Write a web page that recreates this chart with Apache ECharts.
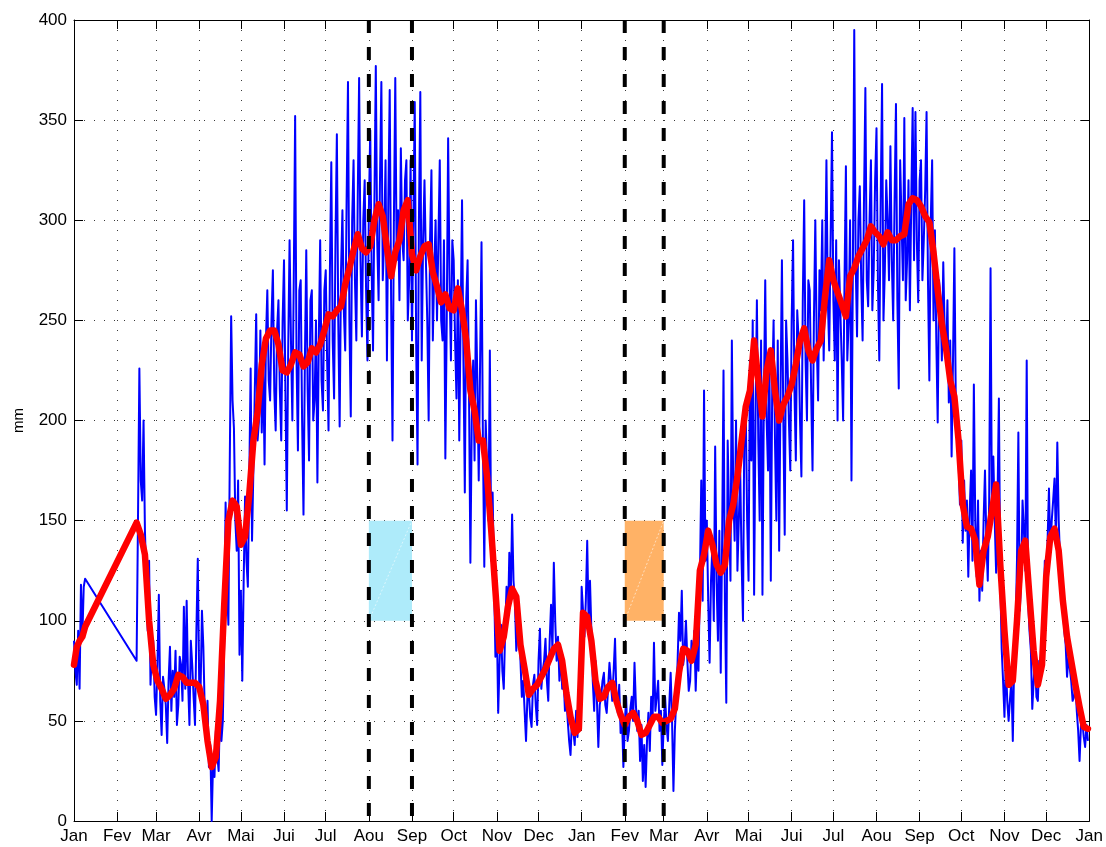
<!DOCTYPE html>
<html>
<head>
<meta charset="utf-8">
<script src="https://cdn.jsdelivr.net/npm/echarts@6/dist/echarts.min.js"></script>
<style>
  html, body { margin: 0; padding: 0; background: #ffffff; }
  #chart { width: 1106px; height: 847px; }
</style>
</head>
<body>
<div id="chart"></div>
<script>
// Calendar: day index of each month start over two years, and the month names
const monthDays = [0, 31, 59, 90, 120, 151, 181, 212, 243, 273, 304, 334, 365,
                   396, 424, 455, 485, 516, 546, 577, 608, 638, 669, 699, 730];
const monthNames = ['Jan', 'Fev', 'Mar', 'Avr', 'Mai', 'Jui', 'Jul', 'Aou', 'Sep', 'Oct', 'Nov', 'Dec', 'Jan',
                    'Fev', 'Mar', 'Avr', 'Mai', 'Jui', 'Jul', 'Aou', 'Sep', 'Oct', 'Nov', 'Dec', 'Jan'];

// Daily observations (mm): first days of January, one value per day from day 0
const obsJanStart = 0, obsJanStep = 1;
const obsJan = [90, 75, 68, 95, 66, 118, 92, 117, 121];

// Observations (mm) after the February gap: odd-numbered days from day 45
const obsEvenStart = 45, obsEvenStep = 2;
const obsEven = [
  80, 226, 160, 145, 95, 68, 90, 53, 113, 43,
  66, 39, 87, 75, 85, 58, 78, 107, 110, 48,
  78, 48, 131, 65, 87, 41, 27, 0, 22, 33,
  58, 50, 159, 98, 252, 196, 135, 83, 70, 162,
  117, 226, 176, 253, 200, 194, 178, 265, 210, 275,
  195, 260, 190, 280, 155, 290, 200, 352, 185, 270,
  153, 285, 180, 265, 210, 169, 290, 205, 275, 195,
  329, 211, 343, 197, 305, 235, 369, 202, 330, 240,
  371, 242, 320, 230, 345, 235, 377, 260, 369, 290,
  230, 365, 190, 371, 305, 336, 280, 330, 270, 240,
  359, 178, 364, 290, 280, 200, 325, 275, 250, 330,
  240, 181, 341, 230, 280, 211, 190, 310, 164, 280,
  129, 230, 260, 170, 289, 127, 176, 235, 164, 82,
  54, 98, 66, 117, 134, 153, 110, 94, 80, 70,
  40, 65, 47, 73, 48, 96, 75, 91, 60, 108,
  129, 80, 70, 66, 55, 50, 33, 45, 55, 60,
  117, 92, 140, 120, 70, 80, 37, 62, 74, 54,
  79, 60, 91, 54, 44, 27, 62, 45, 62, 79,
  45, 30, 20, 17, 54, 62, 89, 62, 45, 28,
  62, 40, 74, 15, 60, 104, 115, 85, 80, 70,
  80, 65, 75, 170, 215, 150, 79, 137, 187, 90,
  74, 225, 59, 154, 240, 140, 125, 175, 100, 205,
  120, 180, 113, 260, 150, 113, 270, 175, 120, 250,
  150, 135, 280, 143, 230, 175, 290, 180, 240, 172,
  310, 200, 265, 175, 300, 210, 255, 230, 330, 235,
  344, 230, 200, 255, 200, 327, 250, 170, 395, 242,
  317, 240, 366, 257, 330, 275, 346, 230, 368, 275,
  300, 337, 250, 358, 216, 300, 351, 280, 255, 356,
  354, 259, 330, 290, 354, 220, 330, 295, 199, 260,
  279, 230, 209, 182, 286, 200, 158, 139, 145, 122,
  175, 218, 122, 110, 115, 175, 120, 276, 182, 124,
  211, 86, 52, 60, 61, 40, 95, 194, 120, 145,
  230, 95, 56, 80, 60, 72, 95, 110, 166, 150,
  171, 189, 130, 108, 88, 82, 70, 62, 55, 30,
  50, 37, 40
];

// Observations (mm) on the days in between, from day 46
const obsOddStart = 46, obsOddStep = 2;
const obsOdd = [
  150, 170, 200, 120, 130, 85, 62, 78, 60, 72,
  58, 70, 55, 62, 48, 82, 60, 66, 70, 90,
  62, 95, 70, 105, 55, 60, 38, 30, 45, 25,
  40, 90, 120, 180, 210, 150, 170, 115, 120, 130,
  170, 140, 215, 190, 245, 230, 240, 220, 250, 215,
  245, 215, 250, 215, 235, 240, 270, 230, 265, 200,
  230, 215, 260, 200, 250, 240, 220, 265, 230, 275,
  240, 290, 250, 275, 255, 310, 250, 300, 270, 310,
  280, 300, 265, 305, 275, 310, 290, 320, 270, 330,
  310, 260, 300, 280, 260, 290, 320, 250, 330, 300,
  240, 300, 230, 320, 250, 290, 240, 300, 290, 250,
  290, 250, 270, 290, 240, 270, 250, 230, 260, 215,
  200, 180, 220, 230, 190, 200, 150, 130, 120, 100,
  80, 75, 95, 100, 110, 120, 85, 100, 62, 55,
  62, 52, 68, 58, 80, 66, 80, 70, 90, 85,
  100, 92, 85, 72, 62, 40, 50, 38, 42, 48,
  105, 110, 100, 95, 55, 60, 58, 70, 58, 66,
  70, 75, 62, 68, 52, 48, 40, 56, 50, 58,
  55, 48, 38, 40, 35, 50, 55, 70, 55, 48,
  48, 58, 50, 45, 80, 90, 78, 100, 65, 90,
  95, 88, 120, 110, 130, 110, 120, 100, 120, 145,
  140, 110, 190, 120, 165, 200, 150, 130, 200, 150,
  230, 250, 200, 190, 240, 210, 200, 230, 215, 190,
  240, 215, 200, 250, 200, 250, 215, 255, 200, 260,
  230, 270, 215, 250, 240, 275, 300, 270, 260, 290,
  260, 290, 280, 230, 270, 230, 300, 275, 280, 300,
  270, 310, 270, 300, 255, 320, 270, 310, 250, 320,
  270, 280, 310, 260, 330, 270, 260, 320, 310, 280,
  290, 320, 270, 315, 270, 300, 250, 240, 270, 230,
  245, 260, 240, 230, 210, 180, 190, 170, 160, 155,
  130, 150, 160, 135, 150, 140, 160, 150, 150, 160,
  120, 70, 80, 50, 70, 80, 130, 105, 160, 125,
  110, 85, 70, 62, 80, 88, 130, 140, 135, 160,
  140, 150, 110, 95, 72, 76, 60, 68, 45, 48,
  42, 48
];

// Smoothed series (mm): January part, every 2 days from day 0
const meanJanStart = 0, meanJanStep = 2;
const meanJan = [78, 87, 90, 92, 97];

// Smoothed series (mm) after the gap, every 3 days from day 45
const meanMainStart = 45, meanMainStep = 3;
const meanMain = [
  149, 143, 133, 100, 78, 70, 66, 61, 63, 66,
  73, 72, 69, 69, 69, 67, 58, 40, 27, 32,
  60, 108, 150, 160, 157, 138, 142, 163, 190, 204,
  228, 241, 245, 245, 238, 225, 224, 228, 234, 233,
  227, 229, 236, 234, 238, 245, 253, 252, 255, 257,
  268, 276, 285, 293, 286, 284, 287, 300, 308, 302,
  286, 272, 284, 290, 305, 310, 283, 275, 282, 287,
  288, 274, 267, 259, 263, 256, 255, 266, 255, 240,
  215, 205, 190, 190, 172, 145, 115, 85, 92, 107,
  116, 112, 88, 76, 63, 66, 68, 72, 76, 81,
  86, 88, 80, 64, 52, 44, 46, 104, 102, 90,
  70, 61, 62, 67, 69, 60, 53, 48, 52, 54,
  50, 43, 44, 48, 52, 52, 49, 50, 51, 56,
  74, 86, 85, 80, 88, 125, 133, 145, 138, 128,
  124, 128, 150, 158, 172, 190, 207, 215, 240, 220,
  202, 225, 235, 215, 200, 208, 212, 218, 228, 240,
  246, 235, 230, 236, 240, 262, 280, 270, 264, 258,
  252, 272, 276, 282, 286, 290, 297, 294, 292, 288,
  294, 290, 290, 292, 293, 308, 311, 310, 307, 302,
  299, 284, 265, 248, 236, 220, 212, 190, 158, 147,
  146, 140, 118, 135, 142, 155, 168, 128, 95, 68,
  70, 100, 135, 140, 112, 85, 68, 78, 122, 142,
  146, 135, 110, 92, 80, 68, 57, 47, 46
];

// Highlighted periods (day index) and the mm band they cover
const periodStart = [212, 396];
const periodEnd = [243, 424];
const bandLow = 100, bandHigh = 150;

function toPairs(start, step, values) {
  return values.map((v, i) => [start + i * step, v]);
}

const obsAfterGap = toPairs(obsEvenStart, obsEvenStep, obsEven)
  .concat(toPairs(obsOddStart, obsOddStep, obsOdd))
  .sort((a, b) => a[0] - b[0]);
const obsData = toPairs(obsJanStart, obsJanStep, obsJan).concat(obsAfterGap);
const meanData = toPairs(meanJanStart, meanJanStep, meanJan)
  .concat(toPairs(meanMainStart, meanMainStep, meanMain));

const FONT = '"Liberation Sans", Arial, Helvetica, sans-serif';
const bandFill = ['#aeebfa', '#ffb266'];
const dotted = { color: '#3a3a3a', width: 1, type: [1, 9] };

const bandSeries = periodStart.map((s, i) => ({
  type: 'line', data: [], z: 1, silent: true,
  markArea: {
    silent: true,
    itemStyle: { color: bandFill[i], borderWidth: 0 },
    data: [[{ xAxis: s, yAxis: bandLow }, { xAxis: periodEnd[i], yAxis: bandHigh }]]
  }
}));

const bandSeam = periodStart.map((s, i) => ({
  type: 'line', z: 1.5, silent: true, showSymbol: false,
  data: [[s, bandLow], [periodEnd[i], bandHigh]],
  lineStyle: { color: 'rgba(255,255,255,0.55)', width: 1, type: [2, 2] }
}));

const dashedDays = periodStart.flatMap((s, i) => [s, periodEnd[i]]);
const dashedSeries = dashedDays.map(d => ({
  type: 'line', z: 6, silent: true, showSymbol: false,
  data: [[d, 400], [d, 0]],
  lineStyle: { color: '#000000', width: 4, type: [13, 14] }
}));

const chart = echarts.init(document.getElementById('chart'), null, { renderer: 'canvas' });
chart.setOption({
  animation: false,
  backgroundColor: '#ffffff',
  textStyle: { fontFamily: FONT },
  grid: { left: 74, right: 16, top: 20, bottom: 26, containLabel: false },
  xAxis: [{
    type: 'value', min: 0, max: 730, position: 'bottom',
    axisLine: { show: true, onZero: false, lineStyle: { color: '#000', width: 1 } },
    axisTick: { show: true, inside: true, length: 9, customValues: monthDays, lineStyle: { color: '#000', width: 1 } },
    axisLabel: {
      show: true, customValues: monthDays, margin: 7, color: '#000', fontSize: 17, fontFamily: FONT,
      showMinLabel: true, showMaxLabel: true, hideOverlap: false,
      formatter: v => monthNames[monthDays.indexOf(v)]
    },
    splitLine: { show: true, lineStyle: dotted }
  }, {
    type: 'value', min: 0, max: 730, position: 'top',
    axisLine: { show: true, onZero: false, lineStyle: { color: '#000', width: 1 } },
    axisTick: { show: true, inside: true, length: 9, customValues: monthDays, lineStyle: { color: '#000', width: 1 } },
    axisLabel: { show: false },
    splitLine: { show: false }
  }],
  yAxis: [{
    type: 'value', min: 0, max: 400, interval: 50, position: 'left',
    name: 'mm', nameLocation: 'middle', nameGap: 48, nameRotate: 90,
    nameTextStyle: { color: '#000', fontSize: 15, fontFamily: FONT },
    axisLine: { show: true, onZero: false, lineStyle: { color: '#000', width: 1 } },
    axisTick: { show: true, inside: true, length: 9, lineStyle: { color: '#000', width: 1 } },
    axisLabel: { color: '#000', fontSize: 17, margin: 7, fontFamily: FONT },
    splitLine: { show: true, lineStyle: dotted }
  }, {
    type: 'value', min: 0, max: 400, interval: 50, position: 'right',
    axisLine: { show: true, onZero: false, lineStyle: { color: '#000', width: 1 } },
    axisTick: { show: true, inside: true, length: 9, lineStyle: { color: '#000', width: 1 } },
    axisLabel: { show: false },
    splitLine: { show: false }
  }],
  series: [
    ...bandSeries,
    ...bandSeam,
    {
      name: 'obs', type: 'line', z: 3, showSymbol: false, silent: true, clip: true,
      data: obsData,
      lineStyle: { color: '#0000ff', width: 2, join: 'round' }
    },
    {
      name: 'mean', type: 'line', z: 4, showSymbol: false, silent: true, clip: true,
      data: meanData,
      lineStyle: { color: '#ff0000', width: 6.5, join: 'round', cap: 'round' }
    },
    ...dashedSeries
  ]
});
</script>
</body>
</html>
